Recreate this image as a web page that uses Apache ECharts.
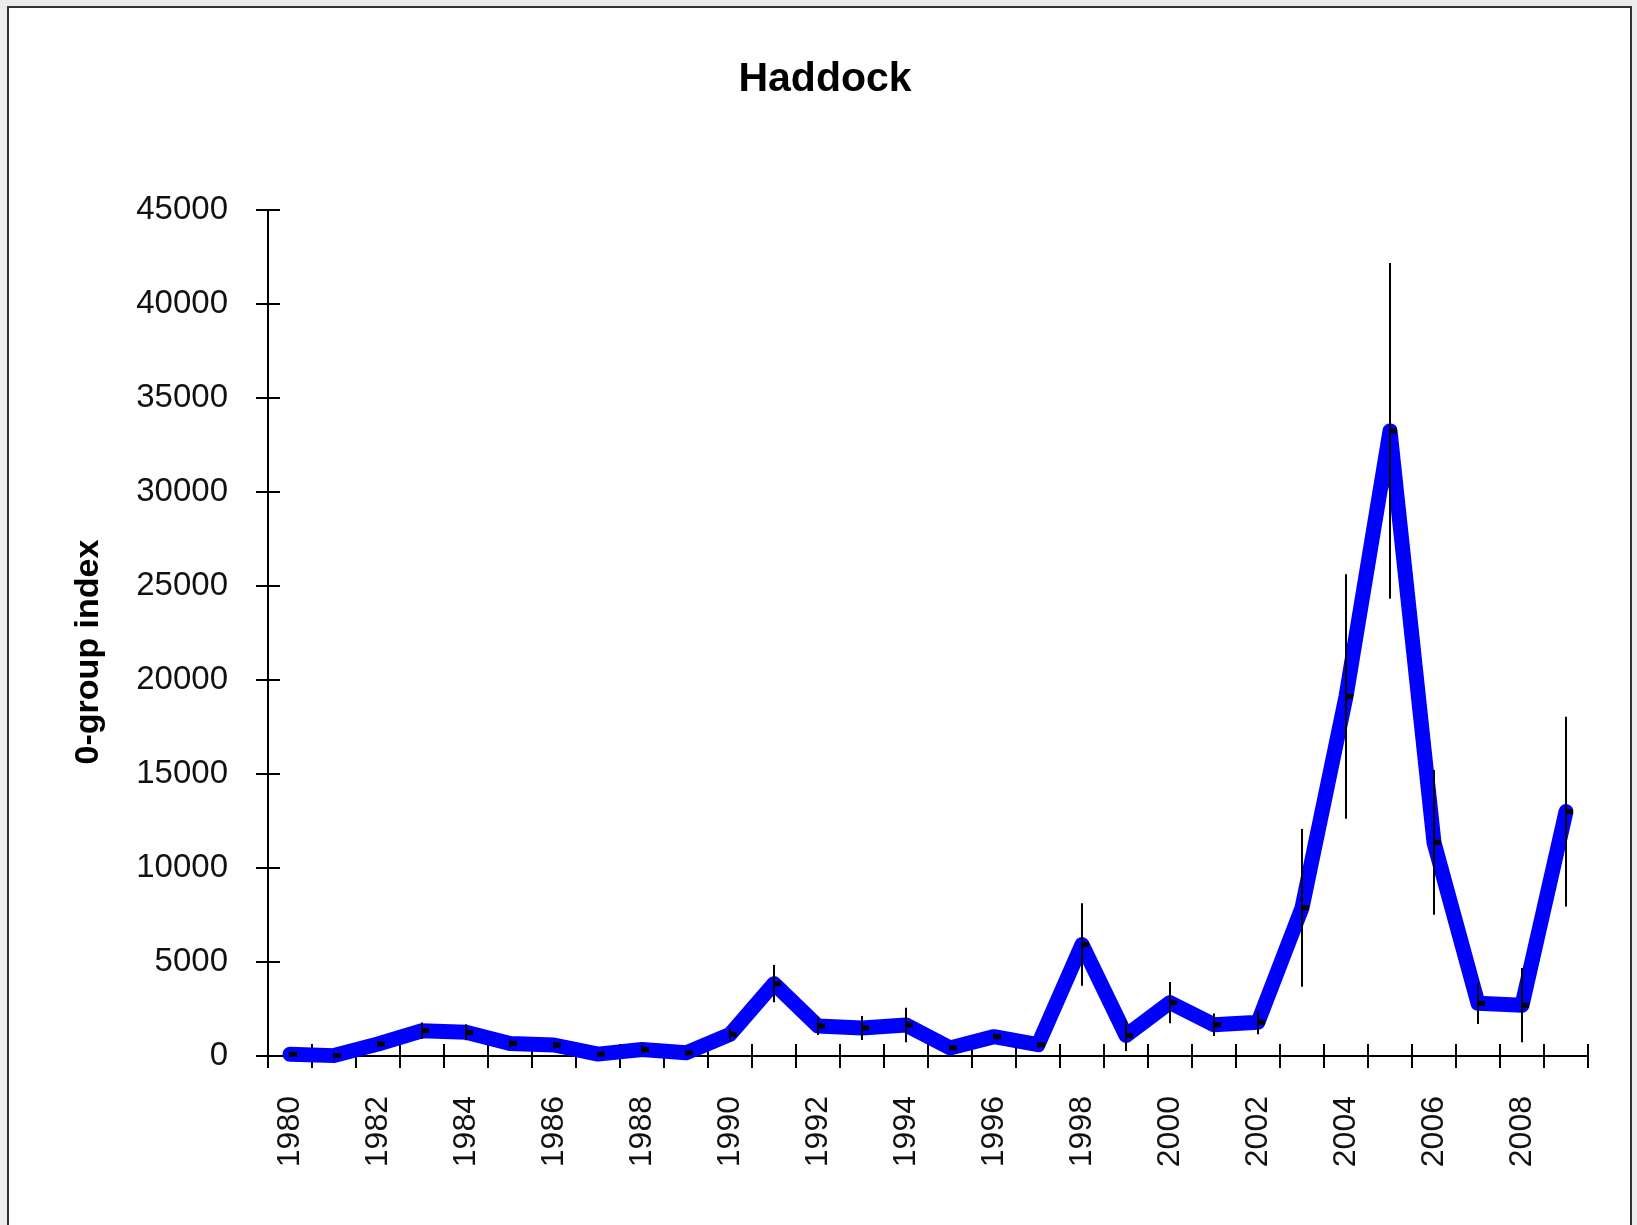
<!DOCTYPE html>
<html>
<head>
<meta charset="utf-8">
<script src="https://cdn.jsdelivr.net/npm/echarts@6/dist/echarts.min.js"></script>
<style>
html,body{margin:0;padding:0;background:#ececec;}
#chart{width:1637px;height:1225px;}
</style>
</head>
<body>
<div id="chart"></div>
<script>
// ---- data ----
const years = ['1980','1981','1982','1983','1984','1985','1986','1987','1988','1989',
  '1990','1991','1992','1993','1994','1995','1996','1997','1998','1999',
  '2000','2001','2002','2003','2004','2005','2006','2007','2008','2009'];
const indexValues = [90, 20, 640, 1340, 1260, 670, 585, 100, 350, 170,
  1150, 3850, 1590, 1490, 1650, 430, 1030, 600, 5930, 1090,
  2840, 1660, 1800, 7880, 19120, 33250, 11360, 2800, 2700, 13000];
const errorHalf = [30, 30, 150, 440, 425, 200, 180, 60, 230, 100,
  355, 985, 470, 640, 920, 150, 150, 150, 2190, 820,
  1100, 600, 640, 4200, 6500, 8930, 3850, 1100, 1975, 5045];
const yTicks = {min: 0, max: 45000, interval: 5000};
const titleText = 'Haddock';
const yName = '0-group index';

const FONT = '"Liberation Sans", Arial, sans-serif';
const errData = years.map((y, i) => [i, indexValues[i], indexValues[i] - errorHalf[i], indexValues[i] + errorHalf[i]]);

const chart = echarts.init(document.getElementById('chart'), null, {renderer: 'canvas'});
chart.setOption({
  backgroundColor: 'transparent',
  animation: false,
  title: {
    text: titleText,
    left: 820, top: 54, textAlign: 'center',
    textStyle: {fontFamily: FONT, fontWeight: 'bold', fontSize: 41, color: '#000'}
  },
  graphic: [
    {type: 'rect', z: -10, shape: {x: 8, y: 7, width: 1623, height: 1260},
     style: {fill: '#fff', stroke: '#333', lineWidth: 2}},
    {type: 'text', x: 89, y: 652, rotation: Math.PI / 2,
     style: {text: yName, font: 'bold 34px ' + FONT, fill: '#000', textAlign: 'center', textVerticalAlign: 'middle'}}
  ],
  grid: {left: 268, right: 49, top: 210, bottom: 169, containLabel: false},
  xAxis: [
    {type: 'category', data: years, boundaryGap: true, position: 'bottom',
     axisLine: {show: true, lineStyle: {color: '#000', width: 2}},
     axisTick: {show: true, interval: 0, length: 12, inside: false, lineStyle: {color: '#000', width: 2}},
     axisLabel: {interval: 1, rotate: 90, margin: 40, fontFamily: FONT, fontSize: 32, color: '#111'},
     splitLine: {show: false}},
    {type: 'category', data: years, boundaryGap: true, position: 'bottom', offset: 0,
     axisLine: {show: false},
     axisTick: {show: true, interval: 0, length: 12, inside: true, lineStyle: {color: '#000', width: 2}},
     axisLabel: {show: false}, splitLine: {show: false}}
  ],
  yAxis: [
    {type: 'value', min: yTicks.min, max: yTicks.max, interval: yTicks.interval, position: 'left',
     axisLine: {show: true, lineStyle: {color: '#000', width: 2}},
     axisTick: {show: true, length: 12, inside: false, lineStyle: {color: '#000', width: 2}},
     axisLabel: {margin: 40, fontFamily: FONT, fontSize: 33, color: '#111', formatter: v => String(v)},
     splitLine: {show: false}},
    {type: 'value', min: yTicks.min, max: yTicks.max, interval: yTicks.interval, position: 'left', offset: 0,
     axisLine: {show: false},
     axisTick: {show: true, length: 12, inside: true, lineStyle: {color: '#000', width: 2}},
     axisLabel: {show: false}, splitLine: {show: false}}
  ],
  series: [
    {type: 'line', data: indexValues, xAxisIndex: 0, yAxisIndex: 0, symbol: 'none',
     lineStyle: {color: '#0000ff', width: 15, cap: 'round', join: 'round'}, z: 2},
    {type: 'custom', data: errData, xAxisIndex: 0, yAxisIndex: 0, z: 5,
     encode: {x: 0, y: [1, 2, 3]},
     renderItem: function (params, api) {
       const x = api.coord([api.value(0), api.value(1)]);
       const lo = api.coord([api.value(0), api.value(2)]);
       const hi = api.coord([api.value(0), api.value(3)]);
       return {type: 'group', children: [
         {type: 'line', shape: {x1: x[0], y1: lo[1], x2: x[0], y2: hi[1]},
          style: {stroke: '#000', lineWidth: 2}},
         {type: 'rect', shape: {x: x[0] - 1, y: x[1] - 2.5, width: 8, height: 5},
          style: {fill: '#000'}}
       ]};
     }}
  ]
});
</script>
</body>
</html>
